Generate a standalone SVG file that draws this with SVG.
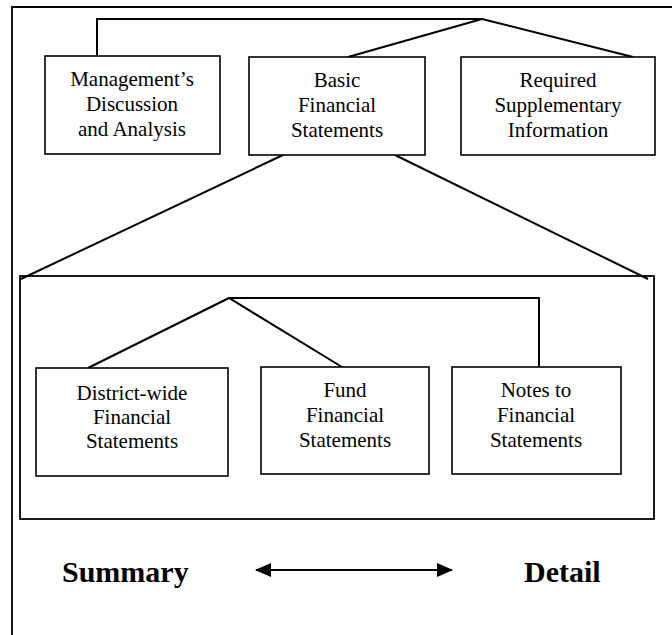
<svg xmlns="http://www.w3.org/2000/svg" width="672" height="635" viewBox="0 0 672 635">
<style>
  .box{fill:#fff;stroke:#000;stroke-width:1.6}
  .frame{fill:none;stroke:#000;stroke-width:1.8}
  .conn{fill:none;stroke:#000;stroke-width:2}
  .t{font-family:"Liberation Serif","DejaVu Serif",serif;font-size:21px;fill:#000;text-anchor:middle}
  .b{font-family:"Liberation Serif","DejaVu Serif",serif;font-size:30px;font-weight:bold;fill:#000}
</style>
<defs>
  <marker id="ah" viewBox="0 0 16 14" refX="15" refY="7" markerWidth="16" markerHeight="14" markerUnits="userSpaceOnUse" orient="auto-start-reverse">
    <path d="M0,0 L16,7 L0,14 Z" fill="#000"/>
  </marker>
</defs>
<rect width="672" height="635" fill="#fff"/>
<g id="frames">
  <path class="frame" d="M12,635 V7 H672"/>
  <rect class="frame" x="20" y="276" width="634" height="243"/>
</g>
<g id="connectors">
  <path class="conn" d="M97,56 V19 H482"/>
  <path class="conn" d="M482,19 L348,57"/>
  <path class="conn" d="M482,19 L633,57"/>
  <path class="conn" d="M283,155 L21,279"/>
  <path class="conn" d="M395,155 L648,279"/>
  <path class="conn" d="M88,368 L229,298 L342,367"/>
  <path class="conn" d="M229,298 H539 V367"/>
  <line class="conn" x1="256" y1="570" x2="452" y2="570" marker-start="url(#ah)" marker-end="url(#ah)"/>
</g>
<g id="mda">
  <rect class="box" x="45" y="56" width="175" height="98"/>
  <text class="t" x="132" y="86">Management’s</text>
  <text class="t" x="132" y="111">Discussion</text>
  <text class="t" x="132" y="136">and Analysis</text>
</g>
<g id="basic">
  <rect class="box" x="249" y="57" width="176" height="98"/>
  <text class="t" x="337" y="87">Basic</text>
  <text class="t" x="337" y="112">Financial</text>
  <text class="t" x="337" y="137">Statements</text>
</g>
<g id="rsi">
  <rect class="box" x="461" y="57" width="194" height="98"/>
  <text class="t" x="558" y="87">Required</text>
  <text class="t" x="558" y="112">Supplementary</text>
  <text class="t" x="558" y="137">Information</text>
</g>
<g id="district">
  <rect class="box" x="36" y="368" width="192" height="108"/>
  <text class="t" x="132" y="400">District-wide</text>
  <text class="t" x="132" y="424">Financial</text>
  <text class="t" x="132" y="448">Statements</text>
</g>
<g id="fund">
  <rect class="box" x="261" y="367" width="168" height="107"/>
  <text class="t" x="345" y="397">Fund</text>
  <text class="t" x="345" y="422">Financial</text>
  <text class="t" x="345" y="447">Statements</text>
</g>
<g id="notes">
  <rect class="box" x="452" y="367" width="169" height="107"/>
  <text class="t" x="536" y="397">Notes to</text>
  <text class="t" x="536" y="422">Financial</text>
  <text class="t" x="536" y="447">Statements</text>
</g>
<g id="labels">
  <text class="b" x="62" y="582">Summary</text>
  <text class="b" x="524" y="582">Detail</text>
</g>
</svg>
